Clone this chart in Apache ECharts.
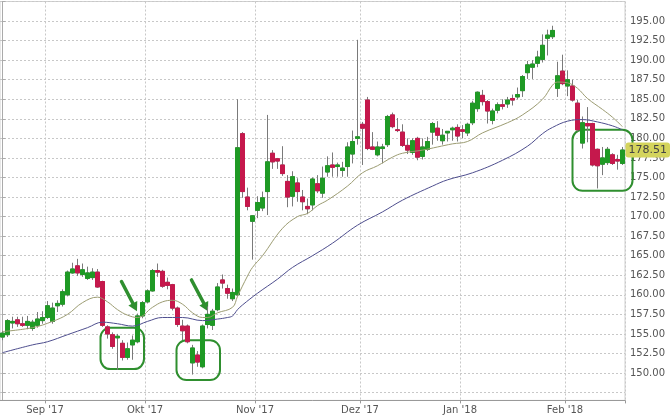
<!DOCTYPE html>
<html><head><meta charset="utf-8">
<script src="https://cdn.jsdelivr.net/npm/echarts@6/dist/echarts.min.js"></script>
<style>html,body{margin:0;padding:0;background:#fff}#c{width:670px;height:417px}</style>
</head><body><div id="c"></div><script>
const dates = [
'2017-08-21','2017-08-22','2017-08-23','2017-08-24','2017-08-25','2017-08-28','2017-08-29','2017-08-30','2017-08-31',
'2017-09-01','2017-09-05','2017-09-06','2017-09-07','2017-09-08','2017-09-11','2017-09-12','2017-09-13','2017-09-14','2017-09-15',
'2017-09-18','2017-09-19','2017-09-20','2017-09-21','2017-09-22','2017-09-25','2017-09-26','2017-09-27','2017-09-28','2017-09-29',
'2017-10-02','2017-10-03','2017-10-04','2017-10-05','2017-10-06','2017-10-09','2017-10-10','2017-10-11','2017-10-12','2017-10-13',
'2017-10-16','2017-10-17','2017-10-18','2017-10-19','2017-10-20','2017-10-23','2017-10-24','2017-10-25','2017-10-26','2017-10-27',
'2017-10-30','2017-10-31',
'2017-11-01','2017-11-02','2017-11-03','2017-11-06','2017-11-07','2017-11-08','2017-11-09','2017-11-10','2017-11-13','2017-11-14',
'2017-11-15','2017-11-16','2017-11-17','2017-11-20','2017-11-21','2017-11-22','2017-11-24','2017-11-27','2017-11-28','2017-11-29','2017-11-30',
'2017-12-01','2017-12-04','2017-12-05','2017-12-06','2017-12-07','2017-12-08','2017-12-11','2017-12-12','2017-12-13','2017-12-14',
'2017-12-15','2017-12-18','2017-12-19','2017-12-20','2017-12-21','2017-12-22','2017-12-26','2017-12-27','2017-12-28','2017-12-29',
'2018-01-02','2018-01-03','2018-01-04','2018-01-05','2018-01-08','2018-01-09','2018-01-10','2018-01-11','2018-01-12','2018-01-16',
'2018-01-17','2018-01-18','2018-01-19','2018-01-22','2018-01-23','2018-01-24','2018-01-25','2018-01-26','2018-01-29','2018-01-30','2018-01-31',
'2018-02-01','2018-02-02','2018-02-05','2018-02-06','2018-02-07','2018-02-08','2018-02-09','2018-02-12','2018-02-13','2018-02-14',
'2018-02-15','2018-02-16'
];
const openP = [
154.6,154.9,156.4,156.8,156.3,156.1,155.7,156.1,156.7,157.1,
156.6,158.6,158.8,160.0,162.8,163.7,162.6,162.1,162.2,162.9,
161.7,155.9,154.9,154.5,153.8,152.0,153.6,154.0,157.3,159.1,
160.5,163.1,163.0,161.6,161.3,158.3,156.0,156.0,151.3,152.3,
150.8,156.2,156.1,158.1,161.9,160.8,159.5,160.0,180.6,172.5,
169.4,170.8,171.1,173.2,178.1,177.4,176.6,174.5,172.6,174.3,
172.5,171.3,171.5,174.2,173.0,175.7,176.6,176.4,175.9,176.4,
178.0,180.0,181.8,184.9,178.9,177.9,178.7,179.2,183.0,181.1,
180.8,179.1,178.2,180.0,177.7,178.6,180.8,181.3,179.7,180.7,
181.1,181.4,181.1,180.7,182.0,183.8,185.5,184.7,182.3,183.6,
184.3,184.4,185.1,185.3,186.1,188.4,189.1,189.6,190.1,192.8,
193.0,186.4,188.6,186.7,186.7,184.5,179.4,181.9,181.9,178.6,
176.7,176.9,177.9,177.3,176.8
];
const closeP = [
155.1,156.7,156.6,156.3,156.1,156.6,156.5,156.9,157.1,158.6,
158.3,158.9,160.4,162.9,163.3,162.8,163.2,162.8,162.9,161.0,
156.1,155.0,153.4,154.7,152.0,153.1,154.2,157.3,159.0,160.5,
163.1,162.9,161.1,161.2,158.3,156.2,155.4,154.0,153.2,151.4,
156.0,157.5,157.9,161.0,161.5,160.2,160.3,178.8,173.2,171.3,
170.1,171.8,172.4,177.0,177.0,177.1,175.5,172.5,175.1,173.2,
171.9,171.0,174.8,173.3,174.9,176.5,176.3,176.6,176.2,178.9,
179.6,180.2,181.3,178.7,178.6,178.9,178.9,182.8,181.5,181.0,
179.1,178.5,179.7,177.6,178.9,179.6,181.9,180.4,180.4,180.9,
181.3,180.3,180.9,181.8,184.5,185.9,184.7,183.5,183.5,184.3,
184.1,184.9,184.9,185.6,187.9,189.4,189.5,190.4,191.9,193.2,
193.8,188.0,187.0,187.5,184.9,181.1,182.0,181.6,176.6,176.5,
177.5,178.6,176.8,177.1,178.51
];
const lowP = [
154.2,154.6,155.7,155.9,155.9,155.6,155.4,155.8,156.3,156.9,
156.3,157.8,158.5,159.8,162.7,162.4,162.3,161.9,161.9,160.9,
155.9,154.4,153.1,150.4,151.6,151.7,151.7,153.8,157.0,158.9,
160.4,162.3,160.9,160.7,158.0,155.9,154.2,153.8,149.8,150.8,
150.6,155.7,155.5,157.9,160.8,159.5,159.2,159.8,172.4,170.8,
164.5,169.8,170.7,170.2,176.1,176.1,175.2,171.2,171.3,171.9,
170.8,170.3,170.8,173.0,172.4,175.1,175.1,175.1,175.1,175.1,
176.8,179.2,176.6,178.5,178.5,177.7,176.8,178.9,181.3,180.8,
178.9,178.0,177.9,177.2,177.3,178.4,179.2,179.7,179.2,179.6,
179.7,179.6,180.0,180.3,181.7,183.4,184.2,181.9,181.8,183.2,
183.7,183.9,184.2,185.0,185.3,187.6,187.6,189.1,189.7,190.6,
192.7,185.3,186.8,185.4,184.7,180.9,178.7,179.5,176.4,173.6,
175.3,176.6,176.6,176.0,176.6
];
const highP = [
155.4,156.9,157.2,157.2,157.2,157.3,156.8,157.8,157.9,159.2,
159.0,159.3,160.7,163.1,164.1,164.6,164.0,163.6,163.4,163.3,
161.8,156.1,155.2,155.0,154.2,153.9,154.8,157.6,159.2,160.7,
163.3,164.0,163.2,162.2,161.4,158.5,156.8,156.2,153.6,152.8,
156.2,158.5,158.2,161.5,162.6,161.3,160.8,185.0,180.8,173.7,
170.2,172.6,173.2,183.0,178.5,177.5,179.0,175.3,175.8,174.9,
173.4,172.3,175.0,175.3,176.4,177.7,178.2,176.9,177.0,179.5,
181.0,192.6,182.1,185.3,180.8,179.6,179.3,183.0,183.3,182.6,
181.8,180.0,180.0,180.2,180.0,180.2,182.1,182.2,181.2,180.9,
181.5,181.8,181.7,182.0,184.8,186.0,186.2,184.9,183.8,184.6,
185.0,185.3,185.6,186.5,188.1,189.9,190.0,191.2,193.3,193.9,
194.4,189.8,190.7,188.7,187.5,184.9,182.8,184.0,182.0,178.7,
178.9,178.9,178.1,177.9,178.9
];
// moving averages: [trading-day index, value]
const ma20Pts = [
[0,155.3],[6,155.8],[10,156.6],[13,157.5],[16,159.0],[19,159.7],[21,159.1],[23,158.1],[25,157.4],[27,157.1],
[30,158.4],[32,159.1],[34,159.3],[36,158.8],[38,157.7],[40,157.1],[41,157.1],[43,157.7],[46,158.4],[47,159.8],
[49,162.4],[50,163.5],[52,165.0],[56,168.5],[59,170.0],[61,170.4],[63,171.4],[65,172.1],[69,173.9],[72,175.6],
[75,176.5],[78,177.6],[80,178.1],[84,178.5],[87,178.9],[90,179.3],[93,179.6],[96,180.7],[101,182.0],[104,183.0],
[108,185.0],[110,186.8],[111,187.2],[113,187.1],[115,186.4],[117,185.1],[120,183.7],[122,182.7],[124,181.5]
];
const ma50Pts = [
[0,152.6],[6,153.6],[9,154.0],[13,154.9],[17,155.8],[20,156.5],[23,156.3],[26,156.0],[29,156.6],[32,157.1],
[36,157.1],[40,156.7],[43,156.9],[45,157.1],[46,157.3],[47,158.1],[48,158.7],[51,160.2],[55,162.0],[58,163.5],
[62,165.0],[66,166.6],[71,168.9],[76,170.6],[80,172.1],[86,173.9],[89,174.7],[94,175.6],[100,177.2],[105,179.0],
[108,180.6],[110,181.4],[113,182.2],[116,182.4],[119,182.1],[122,181.6],[124,181.1]
];
const yTicks = [147.5,150,152.5,155,157.5,160,162.5,165,167.5,170,172.5,175,177.5,180,182.5,185,187.5,190,192.5,195,197.5];
const yLabels = [150,152.5,155,157.5,160,162.5,165,167.5,170,172.5,175,177.5,180,182.5,185,187.5,190,192.5,195];
const monthNames = ['Jan','Feb','Mär','Apr','Mai','Jun','Jul','Aug','Sep','Okt','Nov','Dez'];
// annotations in data space: [fromIndex, toIndex, topValue, bottomValue]
const boxes = [[19.6,28.3,155.8,150.5],[34.8,43.5,154.2,149.1],[114.0,126.0,181.1,173.3]];
// arrows: [fromIndex, fromValue, toIndex, toValue]
const arrows = [[23.8,161.7,26.9,157.9],[37.8,161.9,41.1,157.9]];

const lastPrice = closeP[closeP.length-1];
function isMonthStart(i){ return i>0 && dates[i].slice(0,7)!==dates[i-1].slice(0,7); }
const FONT = 'DejaVu Sans';
const GREEN = '#1f9a25', RED = '#c5184c', WICK = '#7a7a7a', ANN = '#2f8f2f';

const wickData = dates.map((d,i)=>[openP[i],closeP[i],lowP[i],highP[i]]);
const bodyData = dates.map((d,i)=>[openP[i],closeP[i],Math.min(openP[i],closeP[i]),Math.max(openP[i],closeP[i])]);

const chart = echarts.init(document.getElementById('c'));
chart.setOption({
  animation:false,
  backgroundColor:'#fff',
  grid:{left:0,right:45,top:1.5,bottom:16.6,show:true,borderColor:'#d0d0d0',borderWidth:1},
  xAxis:[{
    type:'category', data:dates, boundaryGap:true,
    axisLine:{lineStyle:{color:'#999'}},
    axisTick:{show:true,interval:(i)=>isMonthStart(i),length:3,lineStyle:{color:'#999'}},
    axisLabel:{interval:(i)=>isMonthStart(i),formatter:v=>monthNames[+v.slice(5,7)-1]+" '"+v.slice(2,4),
      color:'#555',fontFamily:FONT,fontSize:10,margin:5,padding:[0,5,0,0]},
    splitLine:{show:true,interval:(i)=>isMonthStart(i),lineStyle:{color:'#c8c8c8',type:[2,2]}}
  },{
    type:'value', min:-0.5, max:dates.length-0.5, show:false
  }],
  yAxis:{
    type:'value', position:'right', min:146.5, max:197.5,
    axisLine:{show:true,lineStyle:{color:'#aaa'}},
    axisTick:{show:true,customValues:yTicks,length:3,lineStyle:{color:'#aaa'}},
    axisLabel:{customValues:yLabels,formatter:v=>v.toFixed(2),color:'#555',fontFamily:FONT,fontSize:10,margin:5},
    splitLine:{show:true,lineStyle:{color:'#c8c8c8',type:[2,2]}},
    axisPointer:{show:true,type:'line',value:lastPrice,status:'show',snap:false,triggerTooltip:false,
      lineStyle:{color:'rgba(0,0,0,0)'},
      label:{show:true,formatter:p=>(+p.value).toFixed(2),backgroundColor:'#d4d45c',color:'#444',
        fontFamily:FONT,fontSize:11,padding:[2,3,2,3],margin:2}}
  },
  series:[
    {type:'candlestick',name:'wick',data:wickData,barWidth:4,
      itemStyle:{color:WICK,color0:WICK,borderColor:WICK,borderColor0:WICK,borderWidth:1}},
    {type:'candlestick',name:'body',data:bodyData,barWidth:4,
      itemStyle:{color:GREEN,color0:RED,borderColor:GREEN,borderColor0:RED,borderWidth:1}},
    {type:'line',xAxisIndex:1,data:ma20Pts,smooth:0.4,symbol:'none',lineStyle:{color:'#9c9c72',width:1}},
    {type:'line',xAxisIndex:1,data:ma50Pts,smooth:0.4,symbol:'none',lineStyle:{color:'#4e4e8e',width:1}},
    {type:'custom',xAxisIndex:1,data:boxes,dimensions:['x1','x2','y1','y2'],encode:{x:[0,1],y:[2,3]},silent:true,
      renderItem:(params,api)=>{
        const p1=api.coord([api.value(0),api.value(2)]);
        const p2=api.coord([api.value(1),api.value(3)]);
        return {type:'rect',shape:{x:p1[0],y:p1[1],width:p2[0]-p1[0],height:p2[1]-p1[1],r:10},
          style:{fill:'none',stroke:ANN,lineWidth:2}};
      }},
    {type:'custom',xAxisIndex:1,data:arrows,dimensions:['x1','y1','x2','y2'],encode:{x:[0,2],y:[1,3]},silent:true,
      renderItem:(params,api)=>{
        const a=api.coord([api.value(0),api.value(1)]);
        const b=api.coord([api.value(2),api.value(3)]);
        const dx=b[0]-a[0], dy=b[1]-a[1], L=Math.sqrt(dx*dx+dy*dy);
        const ux=dx/L, uy=dy/L, hl=9, hw=5;
        const base=[b[0]-ux*hl,b[1]-uy*hl];
        return {type:'group',children:[
          {type:'line',shape:{x1:a[0],y1:a[1],x2:base[0],y2:base[1]},style:{stroke:ANN,lineWidth:3.5,lineCap:'round'}},
          {type:'polygon',shape:{points:[[b[0],b[1]],[base[0]-uy*hw,base[1]+ux*hw],[base[0]+uy*hw,base[1]-ux*hw]]},style:{fill:ANN}}
        ]};
      }}
  ]
});
</script></body></html>
